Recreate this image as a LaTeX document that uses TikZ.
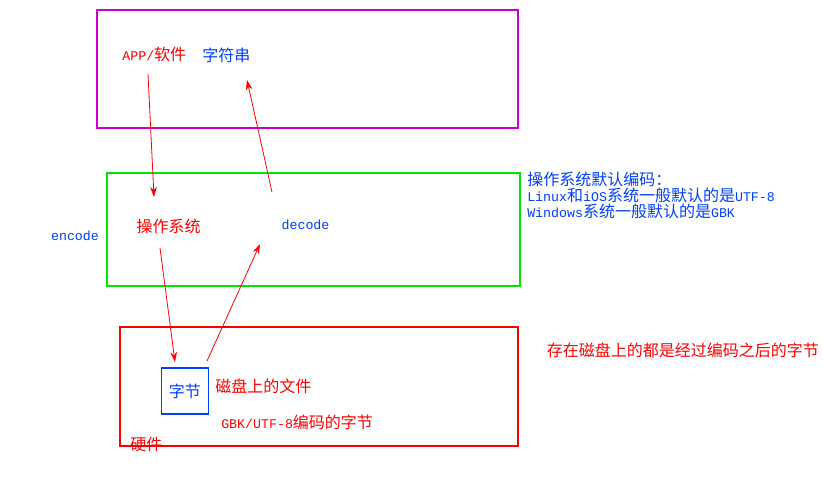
\documentclass[tikz,border=0pt]{standalone}
\usepackage{fontspec}
\setmainfont{Liberation Mono}[Scale=0.83]
\newfontfamily\cjk{Noto Sans CJK SC}
\usetikzlibrary{arrows.meta}
\definecolor{mag}{RGB}{204,0,204}
\definecolor{grn}{RGB}{0,230,0}
\definecolor{txtblue}{RGB}{0,64,255}
\definecolor{txtred}{RGB}{255,0,0}
\begin{document}
\begin{tikzpicture}[x=0.75pt,y=-0.75pt,
  lbl/.style={inner sep=0pt,font=\fontsize{12}{12}\selectfont},
  redlbl/.style={lbl,text=txtred},
  bluelbl/.style={lbl,text=txtblue},
  arr/.style={draw=txtred,line width=0.6pt,-{Stealth[length=7.5pt,width=5pt]}},
  frame/.style={line width=0.8pt}]
\useasboundingbox (0,0) rectangle (823,498);
\fill[white] (0,0) rectangle (823,498);
% frames
\draw[frame,draw=mag] (97,10) rectangle (518,128);
\draw[frame,draw=grn] (107,173) rectangle (520,286);
\draw[frame,draw=txtred] (120,327) rectangle (518,446);
\node[draw=txtblue,line width=0.8pt,minimum width=35pt,minimum height=34.5pt,inner sep=0pt,
  font=\fontsize{12}{12}\selectfont,text=txtblue] (byte) at (184.8,391) {\cjk 字节};
% labels
\node[redlbl] (app) at (154.3,54) {APP/{\cjk 软件}};
\node[bluelbl] (str) at (226.3,55.5) {\cjk 字符串};
\node[bluelbl,anchor=base] (enc) at (75,241) {encode};
\node[redlbl] (os) at (168.7,226) {\cjk 操作系统};
\node[bluelbl,anchor=base] (dec) at (305.5,230) {decode};
\node[bluelbl,anchor=base west,align=left] (note) at (527,218) {{\cjk 操作系统默认编码：}\\Linux{\cjk 和}iOS{\cjk 系统一般默认的是}UTF-8\\Windows{\cjk 系统一般默认的是}GBK};
\node[redlbl,anchor=west] (file) at (215,386) {\cjk 磁盘上的文件};
\node[redlbl,anchor=west] (gbk) at (221,422) {GBK/UTF-8{\cjk 编码的字节}};
\node[redlbl,anchor=west] (hw) at (130,444) {\cjk 硬件};
\node[redlbl,anchor=west] (store) at (546.7,350.5) {\cjk 存在磁盘上的都是经过编码之后的字节};
% arrow end points
\coordinate (a1s) at (148,74);
\coordinate (a1e) at (154,197);
\coordinate (a2s) at (272,192);
\coordinate (a2e) at (247,80);
\coordinate (a3s) at (160,248);
\coordinate (a3e) at (175,362);
\coordinate (a4s) at (207,361);
\coordinate (a4e) at (260,244);
\draw[arr] (a1s) -- (a1e);
\draw[arr] (a2s) -- (a2e);
\draw[arr] (a3s) -- (a3e);
\draw[arr] (a4s) -- (a4e);
\end{tikzpicture}
\end{document}
